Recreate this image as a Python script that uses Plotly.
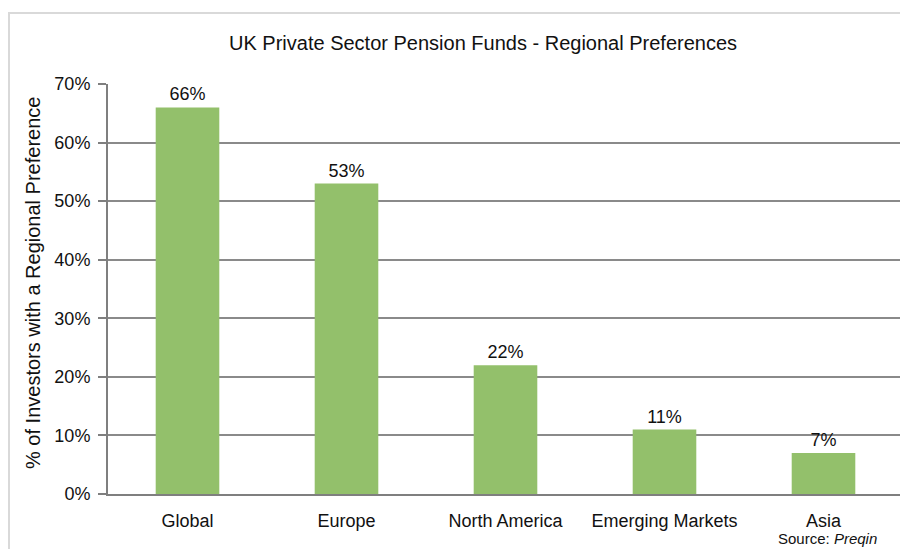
import plotly.graph_objects as go

categories = ["Global", "Europe", "North America", "Emerging Markets", "Asia"]
values = [0.66, 0.53, 0.22, 0.11, 0.07]
labels = ["66%", "53%", "22%", "11%", "7%"]

# page body has an 8px margin; figure is placed at (8, 8)
OFF = 8
W, H = 900, 541
L, R, T, B = 108 - OFF, 5, 84 - OFF, 55
PW, PH = W - L - R, H - T - B


def px_x(x):
    return (x - OFF - L) / PW


def px_y(y):
    return 1 - (y - OFF - T) / PH


font = "Liberation Sans, Arial"

fig = go.Figure()
fig.add_trace(go.Bar(
    x=categories, y=values, text=labels, textposition="outside",
    textfont=dict(family=font, size=18, color="#111"),
    marker=dict(color="#93C06B", line=dict(width=0)),
    width=0.4, cliponaxis=False,
))

fig.update_layout(
    width=W, height=H,
    margin=dict(l=L, r=R, t=T, b=B),
    paper_bgcolor="white", plot_bgcolor="white",
    showlegend=False,
    font=dict(family=font, size=18, color="#111"),
    xaxis=dict(
        showline=True, linecolor="#7f7f7f", linewidth=2,
        ticks="outside", ticklen=9, tickcolor="rgba(0,0,0,0)",
        tickfont=dict(size=18), showgrid=False,
    ),
    yaxis=dict(
        range=[0, 0.7], tickvals=[0, 0.1, 0.2, 0.3, 0.4, 0.5, 0.6, 0.7],
        ticktext=["0%", "10%", "20%", "30%", "40%", "50%", "60%", "70%"],
        showgrid=True, gridcolor="#8a8a8a", gridwidth=1.5,
        showline=True, linecolor="#7f7f7f", linewidth=2,
        ticks="outside", ticklen=8, tickcolor="#7f7f7f", tickwidth=1.5,
        ticklabelstandoff=4, tickfont=dict(size=18), zeroline=False,
    ),
    shapes=[dict(type="rect", xref="paper", yref="paper",
                 x0=px_x(9), x1=1.05,
                 y0=-0.2, y1=px_y(13),
                 line=dict(color="#d9d9d9", width=2), layer="below")],
    annotations=[
        dict(text="UK Private Sector Pension Funds - Regional Preferences",
             xref="paper", yref="paper",
             x=px_x(483), y=px_y(43),
             xanchor="center", yanchor="middle", showarrow=False,
             font=dict(size=20, family=font, color="#111")),
        dict(text="% of Investors with a Regional Preference",
             xref="paper", yref="paper", textangle=-90,
             x=px_x(33), y=px_y(283),
             xanchor="center", yanchor="middle", showarrow=False,
             font=dict(size=20, family=font, color="#111")),
        dict(text="Source: <i>Preqin</i>",
             xref="paper", yref="paper",
             x=px_x(776), y=px_y(549),
             xanchor="left", yanchor="bottom", showarrow=False,
             font=dict(size=15, family=font, color="#111")),
    ],
)

fig.write_html("out.html")
